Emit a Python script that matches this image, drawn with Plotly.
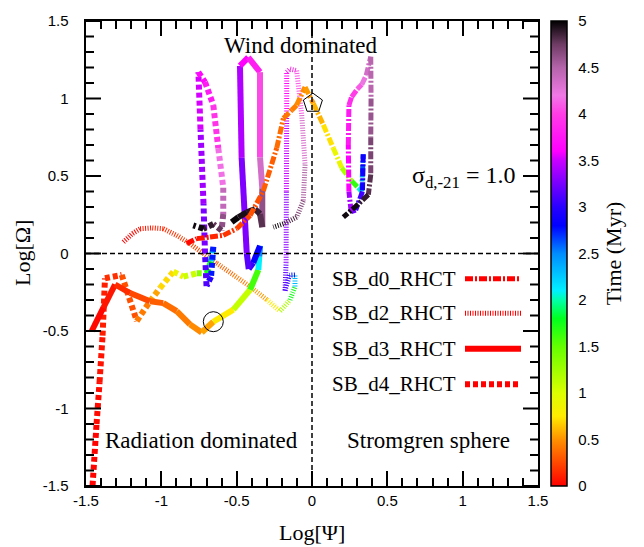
import plotly.graph_objects as go
from plotly.colors import sample_colorscale

# ---- evolutionary tracks: Log[Psi], Log[Omega], time (Myr) ----
d0_x = [-0.832, -0.765, -0.677, -0.589, -0.500, -0.411, -0.323, -0.234, -0.190, -0.135,
        -0.102, -0.046, 0.009, 0.075, 0.141, 0.197, 0.263, 0.307, 0.330, 0.335,
        0.340, 0.335, 0.290, 0.260, 0.245, 0.241, 0.245, 0.263, 0.300, 0.330,
        0.360, 0.390, 0.392, 0.390, 0.390, 0.374, 0.307, 0.208]
d0_y = [0.064, 0.096, 0.106, 0.117, 0.160, 0.245, 0.404, 0.681, 0.872, 0.925,
        0.957, 1.074, 0.968, 0.830, 0.681, 0.553, 0.468, 0.425, 0.400, 0.520,
        0.640, 0.400, 0.280, 0.270, 0.400, 0.700, 0.957, 1.010, 1.060, 1.090,
        1.150, 1.270, 1.000, 0.750, 0.510, 0.380, 0.319, 0.234]
d0_t = [0.00, 0.05, 0.10, 0.15, 0.20, 0.25, 0.30, 0.35, 0.40, 0.42,
        0.45, 0.50, 0.55, 0.65, 0.80, 1.00, 1.40, 1.90, 2.20, 2.50,
        2.75, 3.00, 3.15, 3.30, 3.50, 3.70, 3.85, 3.95, 4.05, 4.15,
        4.30, 4.40, 4.55, 4.65, 4.75, 4.85, 4.93, 5.00]

d2_x = [-1.252, -1.190, -1.141, -1.060, -0.987, -0.898, -0.810, -0.721, -0.632, -0.522,
        -0.411, -0.300, -0.212, -0.146, -0.113, -0.113, -0.150, -0.179, -0.172, -0.170,
        -0.168, -0.168, -0.146, -0.102, -0.068, -0.046, -0.058, -0.102, -0.190, -0.257]
d2_y = [0.074, 0.130, 0.160, 0.165, 0.160, 0.117, 0.064, 0.000, -0.064, -0.138,
        -0.213, -0.298, -0.372, -0.300, -0.213, -0.138, -0.140, -0.240, -0.060, 0.400,
        0.900, 1.170, 1.190, 1.180, 0.893, 0.574, 0.340, 0.234, 0.191, 0.170]
d2_t = [0.00, 0.03, 0.06, 0.10, 0.13, 0.18, 0.22, 0.27, 0.32, 0.38,
        0.45, 0.60, 0.90, 1.50, 2.00, 2.60, 2.90, 3.10, 3.25, 3.40,
        3.60, 3.75, 3.85, 4.00, 4.20, 4.45, 4.60, 4.75, 4.90, 5.00]

d3_x = [-1.462, -1.385, -1.307, -1.208, -1.075, -0.987, -0.898, -0.810, -0.732, -0.655,
        -0.522, -0.411, -0.356, -0.350, -0.345, -0.390, -0.420, -0.433, -0.467, -0.478,
        -0.423, -0.345, -0.345, -0.330, -0.330, -0.345, -0.378, -0.433, -0.489, -0.533]
d3_y = [-0.500, -0.350, -0.200, -0.255, -0.308, -0.320, -0.372, -0.457, -0.510, -0.440,
        -0.362, -0.234, -0.106, -0.020, 0.050, -0.060, -0.100, 0.000, 0.617, 1.210,
        1.265, 1.170, 0.620, 0.420, 0.170, 0.255, 0.287, 0.266, 0.234, 0.202]
d3_t = [0.00, 0.05, 0.10, 0.20, 0.30, 0.35, 0.40, 0.45, 0.50, 0.60,
        0.90, 1.30, 1.90, 2.30, 2.70, 2.95, 3.10, 3.20, 3.35, 3.50,
        3.70, 3.90, 4.20, 4.50, 4.75, 4.85, 4.90, 4.93, 4.96, 5.00]

d4_x = [-1.460, -1.430, -1.410, -1.390, -1.374, -1.263, -1.163, -1.075, -1.009, -0.920,
        -0.854, -0.765, -0.699, -0.670, -0.655, -0.670, -0.700, -0.710, -0.720, -0.740,
        -0.754, -0.710, -0.655, -0.622, -0.589, -0.589, -0.600, -0.655, -0.721, -0.788]
d4_y = [-1.550, -1.100, -0.830, -0.530, -0.160, -0.138, -0.436, -0.308, -0.223, -0.117,
        -0.149, -0.128, -0.128, -0.050, 0.043, -0.150, -0.210, 0.000, 0.320, 0.800,
        1.170, 1.106, 0.957, 0.680, 0.425, 0.255, 0.149, 0.190, 0.160, 0.181]
d4_t = [0.00, 0.02, 0.05, 0.08, 0.12, 0.20, 0.35, 0.50, 0.60, 0.80,
        0.95, 1.20, 1.50, 2.00, 2.60, 2.90, 3.05, 3.20, 3.30, 3.45,
        3.60, 3.70, 3.85, 4.05, 4.30, 4.55, 4.70, 4.85, 4.93, 5.00]

track_names = ["SB_d0_RHCT", "SB_d2_RHCT", "SB_d3_RHCT", "SB_d4_RHCT"]

# open symbols marking special points
circle_x, circle_y = [-0.655], [-0.44]
pentagon_x, pentagon_y = [0.006], [0.97]

t_min, t_max = 0.0, 5.0
cbar_ticks = [0, 0.5, 1, 1.5, 2, 2.5, 3, 3.5, 4, 4.5, 5]
axis_ticks = [-1.5, -1, -0.5, 0, 0.5, 1, 1.5]

# time colour map
time_scale = [
    [0.00, "rgb(255,0,0)"],
    [0.10, "rgb(255,145,0)"],
    [0.15, "rgb(255,235,0)"],
    [0.20, "rgb(220,255,0)"],
    [0.30, "rgb(100,255,0)"],
    [0.36, "rgb(0,255,30)"],
    [0.40, "rgb(0,255,170)"],
    [0.42, "rgb(0,240,255)"],
    [0.50, "rgb(0,140,255)"],
    [0.56, "rgb(0,0,255)"],
    [0.60, "rgb(40,0,255)"],
    [0.70, "rgb(200,0,255)"],
    [0.72, "rgb(255,0,255)"],
    [0.80, "rgb(255,60,230)"],
    [0.84, "rgb(240,120,230)"],
    [0.90, "rgb(180,100,170)"],
    [0.95, "rgb(110,60,100)"],
    [1.00, "rgb(0,0,0)"],
]

styles = {
    "SB_d0_RHCT": dict(width=5, dash="8px,2px,2px,2px"),
    "SB_d2_RHCT": dict(width=5, dash="1px,1.5px"),
    "SB_d3_RHCT": dict(width=6, dash="solid"),
    "SB_d4_RHCT": dict(width=6, dash="5px,3px"),
}
tracks = {
    "SB_d0_RHCT": (d0_x, d0_y, d0_t),
    "SB_d2_RHCT": (d2_x, d2_y, d2_t),
    "SB_d3_RHCT": (d3_x, d3_y, d3_t),
    "SB_d4_RHCT": (d4_x, d4_y, d4_t),
}

SERIF = "Liberation Serif"
SANS = "Liberation Sans"

fig = go.Figure()

# draw each track as time-coloured segments
for name in ["SB_d2_RHCT", "SB_d4_RHCT", "SB_d3_RHCT", "SB_d0_RHCT"]:
    xs, ys, ts = tracks[name]
    for i in range(len(xs) - 1):
        tm = 0.5 * (ts[i] + ts[i + 1])
        col = sample_colorscale(time_scale, [(tm - t_min) / (t_max - t_min)])[0]
        fig.add_trace(go.Scatter(
            x=[xs[i], xs[i + 1]], y=[ys[i], ys[i + 1]], mode="lines",
            line=dict(color=col, **styles[name]),
            showlegend=False, hoverinfo="skip"))

for mx, my, sym in [(circle_x, circle_y, "circle-open"),
                    (pentagon_x, pentagon_y, "pentagon-open")]:
    fig.add_trace(go.Scatter(x=mx, y=my, mode="markers",
                             marker=dict(symbol=sym, size=20, color="black",
                                         line=dict(color="black", width=1)),
                             showlegend=False, hoverinfo="skip"))

# colour bar for time
fig.add_trace(go.Scatter(
    x=[None], y=[None], mode="markers", showlegend=False, hoverinfo="skip",
    marker=dict(color=[t_min], colorscale=time_scale, cmin=t_min, cmax=t_max,
                showscale=True,
                colorbar=dict(
                    x=1.0288, xanchor="left", xpad=0, y=0.5, yanchor="middle",
                    ypad=0, len=1, lenmode="fraction", thickness=16,
                    outlinecolor="black", outlinewidth=1.5,
                    tickvals=cbar_ticks, ticktext=[f"{v:g}" for v in cbar_ticks],
                    ticks="outside", ticklen=8, tickcolor="rgba(0,0,0,0)",
                    tickfont=dict(family=SANS, size=15, color="black"),
                    title=dict(text="Time (Myr)", side="right",
                               font=dict(family=SERIF, size=22, color="black")),
                ))))

shapes = [
    # quadrant divider lines
    dict(type="line", xref="paper", yref="y", x0=0, x1=1, y0=0, y1=0,
         line=dict(color="black", width=1.5, dash="5px,3px")),
    dict(type="line", xref="x", yref="paper", x0=0, x1=0, y0=0, y1=1,
         line=dict(color="black", width=1.5, dash="5px,3px")),
]

# inward y-axis tick marks on the left and right frame edges
plot_w_px = 644 - 86 - 106
major_len, minor_len = 15 / plot_w_px, 8 / plot_w_px
for k in range(31):
    yv = round(-1.5 + 0.1 * k, 1)
    ln = major_len if yv in axis_ticks else minor_len
    for x_edge, sgn in [(0.0, 1), (1.0, -1)]:
        shapes.append(dict(type="line", xref="paper", yref="y",
                           x0=x_edge, x1=x_edge + sgn * ln, y0=yv, y1=yv,
                           line=dict(color="black", width=2)))

# separators on the colour bar every 0.5 Myr
for v in cbar_ticks[1:-1]:
    shapes.append(dict(type="line", xref="paper", yref="paper", layer="above",
                       x0=1.0288, x1=1.0642, y0=v / t_max, y1=v / t_max,
                       line=dict(color="black", width=2)))

# legend: text on the left, red sample line on the right
legend_rows = [0.4459, 0.3715, 0.2951, 0.2187]
annotations = []
for name, yr in zip(track_names, legend_rows):
    st = styles[name]
    shapes.append(dict(type="line", xref="paper", yref="paper",
                       x0=0.8385, x1=0.9624, y0=yr, y1=yr,
                       line=dict(color="rgb(255,0,0)", width=st["width"], dash=st["dash"])))
    annotations.append(dict(text=name, xref="paper", yref="paper", x=0.5398, y=yr,
                            xanchor="left", yanchor="middle", showarrow=False,
                            font=dict(family=SERIF, size=21, color="black")))

annotations += [
    dict(text="Wind dominated", xref="paper", yref="paper", x=0.4757, y=0.947,
         xanchor="center", yanchor="middle", showarrow=False,
         font=dict(family=SERIF, size=23, color="black")),
    dict(text="Radiation dominated", xref="paper", yref="paper", x=0.0376, y=0.0977,
         xanchor="left", yanchor="middle", showarrow=False,
         font=dict(family=SERIF, size=23, color="black")),
    dict(text="Stromgren sphere", xref="paper", yref="paper", x=0.573, y=0.0977,
         xanchor="left", yanchor="middle", showarrow=False,
         font=dict(family=SERIF, size=23, color="black")),
    dict(text="σ<sub>d,-21</sub> = 1.0", xref="paper", yref="paper", x=0.7168, y=0.6645,
         xanchor="left", yanchor="middle", showarrow=False,
         font=dict(family=SERIF, size=24, color="black")),
    dict(text="Log[Ψ]", xref="paper", yref="paper", x=0.5, y=-0.0998,
         xanchor="center", yanchor="middle", showarrow=False,
         font=dict(family=SERIF, size=22, color="black")),
    dict(text="Log[Ω]", xref="paper", yref="paper", x=-0.1416, y=0.501,
         xanchor="center", yanchor="middle", showarrow=False, textangle=-90,
         font=dict(family=SERIF, size=22, color="black")),
]

xaxis_cfg = dict(
    range=[-1.5, 1.5], showgrid=False, zeroline=False,
    showline=True, linecolor="black", linewidth=2, mirror="allticks",
    ticks="inside", ticklen=15, tickwidth=2, tickcolor="black",
    tickvals=axis_ticks, ticktext=[f"{v:g}" for v in axis_ticks],
    tickfont=dict(family=SANS, size=15, color="black"),
    minor=dict(dtick=0.1, ticks="inside", ticklen=8, tickwidth=2, tickcolor="black"),
)
# y tick marks come from the shapes above; non-breaking spaces keep the
# labels clear of them
yaxis_cfg = dict(
    range=[-1.5, 1.5], showgrid=False, zeroline=False,
    showline=True, linecolor="black", linewidth=2, mirror=True,
    ticks="",
    tickvals=axis_ticks, ticktext=[f"{v:g}\u00a0\u00a0\u00a0" for v in axis_ticks],
    tickfont=dict(family=SANS, size=15, color="black"),
)

fig.update_layout(
    width=644, height=547,
    margin=dict(l=86, r=106, t=15, b=61),
    paper_bgcolor="white", plot_bgcolor="white",
    xaxis=xaxis_cfg, yaxis=yaxis_cfg,
    shapes=shapes, annotations=annotations,
    showlegend=False,
)

fig.write_html("out.html")
